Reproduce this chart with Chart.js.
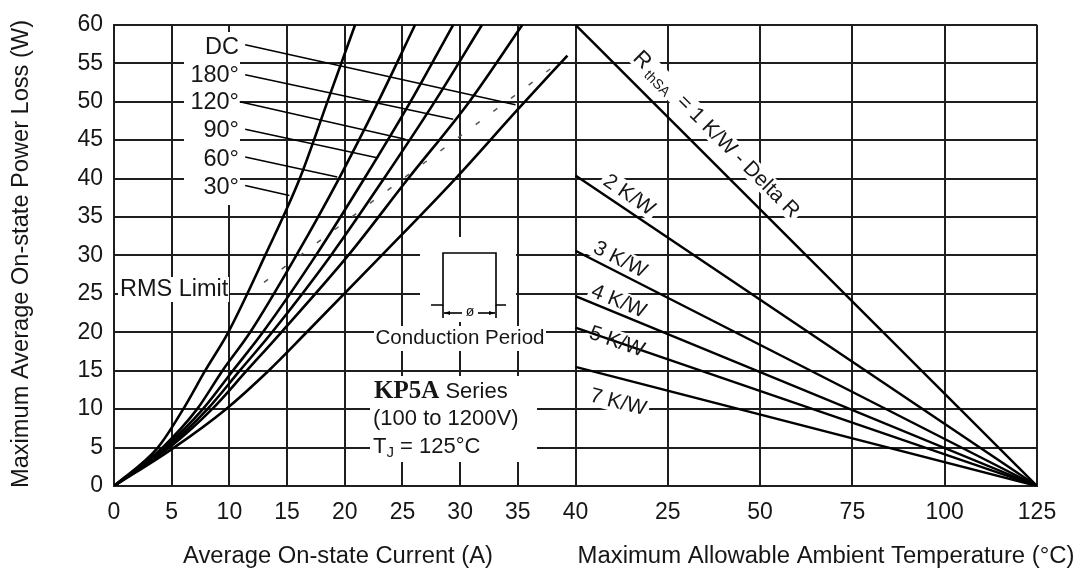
<!DOCTYPE html>
<html>
<head>
<meta charset="utf-8">
<script src="https://cdn.jsdelivr.net/npm/chart.js@4.4.1/dist/chart.umd.min.js"></script>
<style>
  html, body { margin: 0; padding: 0; background: #fff; }
  #wrap { width: 1083px; height: 572px; }
</style>
</head>
<body>
<div id="wrap"><canvas id="chart" width="1083" height="572"></canvas></div>
<script>
// ---- values ----
const currentTicks = [0, 5, 10, 15, 20, 25, 30, 35, 40];   // A, left panel
const tempTicks = [25, 50, 75, 100, 125];                  // °C, right panel
const tempMax = 125;

// left panel: max power loss (W) vs average current (A), one curve per conduction angle
const curveLabels = ['DC', '180°', '120°', '90°', '60°', '30°'];
const stepPower   = [0, 5, 10, 15, 20, 30, 40, 50, 60];
const current30   = [0, 3.8, 6.0, 7.9, 9.9, 13.1, 16.1, 18.5, 20.9];
const current60   = [0, 4.2, 7.2, 9.4, 11.8, 15.8, 19.5, 22.9, 26.1];
const current90   = [0, 4.4, 7.7, 10.3, 12.9, 17.5, 21.7, 25.7, 29.4];
const current120  = [0, 4.6, 8.1, 10.9, 13.7, 18.8, 23.4, 27.8, 31.9];
const current180  = [0, 4.8, 8.5, 11.5, 14.5, 20.3, 25.5, 30.8, 35.4];
const currentDC   = [0, 5.2, 9.7, 13.4, 16.7, 23.2, 29.6, 35.0, 39.3];
const powerDC     = [0, 5, 10, 15, 20, 30, 40, 49, 56];

// dashed RMS limit
const rmsCurrent = [13.0, 39.2];
const rmsPower   = [26.5, 55.8];

// right panel: heatsink lines, power at 0 °C falling to 0 W at 125 °C
const rthValues   = ['1', '2', '3', '4', '5', '7'];
const rthPowerAt0 = [60, 40.4, 30.6, 24.7, 20.6, 15.5];
const rthTemps    = [0, 125];

// ---- helpers ----
const FONT = '"Liberation Sans", Arial, sans-serif';
const INK = '#161616';
// temperature is put on the right half of the shared x axis (40..80)
const tempToAxis = t => 40 + t * 40 / tempMax;
const axisToTemp = v => Math.round((v - 40) * tempMax / 40);

const pts = (xs, ys) => xs.map((x, i) => ({ x: x, y: ys[i] }));

const leftCurves = [
  pts(currentDC, powerDC),
  pts(current180, stepPower),
  pts(current120, stepPower),
  pts(current90, stepPower),
  pts(current60, stepPower),
  pts(current30, stepPower)
];

const datasets = [];
leftCurves.forEach((d, i) => {
  datasets.push({
    label: curveLabels[i], data: d,
    borderColor: '#000', borderWidth: 2.6, pointRadius: 0,
    cubicInterpolationMode: 'monotone', fill: false
  });
});
rthPowerAt0.forEach((p, i) => {
  datasets.push({
    label: rthValues[i] + ' K/W',
    data: [{ x: tempToAxis(rthTemps[0]), y: p }, { x: tempToAxis(rthTemps[1]), y: 0 }],
    borderColor: '#000', borderWidth: 2.4, pointRadius: 0, fill: false
  });
});
datasets.push({
  label: 'RMS Limit', data: pts(rmsCurrent, rmsPower),
  borderColor: '#555', borderWidth: 1.5, borderDash: [5, 17], pointRadius: 0, fill: false
});

// white patches that interrupt the grid behind labels (pixels)
const patches = [
  [184, 32, 56, 173],
  [118, 277, 111, 25],
  [420, 237, 96, 85],
  [374, 326, 172, 25],
  [370, 376, 167, 86]
];

// leader lines from angle labels to curves, in data units [I, P]
const leaders = [
  [[11.37, 57.4], [34.8, 49.6]],
  [[11.37, 53.5], [29.4, 47.7]],
  [[10.9, 50.0], [25.25, 45.1]],
  [[11.37, 46.4], [22.8, 42.7]],
  [[11.37, 42.8], [19.35, 40.2]],
  [[11.37, 39.1], [15.2, 37.8]]
];
const labelY = [48, 76, 103, 131, 160, 188];

// rotated heatsink labels: baseline start (px) and angle
const rotLabels = [
  { x: 632, y: 59, a: 45, parts: [{ t: 'R', s: 22 }, { t: ' thSA', s: 14, dy: 4 }, { t: '  = 1 K/W - Delta R', s: 21 }] },
  { x: 602, y: 184, a: 34, parts: [{ t: '2 K/W', s: 21 }] },
  { x: 592, y: 252, a: 27, parts: [{ t: '3 K/W', s: 21 }] },
  { x: 590, y: 296, a: 22.4, parts: [{ t: '4 K/W', s: 21 }] },
  { x: 588, y: 338, a: 19, parts: [{ t: '5 K/W', s: 21 }] },
  { x: 589, y: 401, a: 14.5, parts: [{ t: '7 K/W', s: 21 }] }
];

function rotated(ctx, lab, mode) {
  ctx.save();
  ctx.translate(lab.x, lab.y);
  ctx.rotate(lab.a * Math.PI / 180);
  const widths = lab.parts.map(p => { ctx.font = p.s + 'px ' + FONT; return ctx.measureText(p.t).width; });
  const total = widths.reduce((a, b) => a + b, 0);
  if (mode === 'box') {
    ctx.fillStyle = '#fff';
    ctx.fillRect(-3, -17, total + 6, 21);
  } else {
    ctx.fillStyle = INK;
    ctx.textBaseline = 'alphabetic';
    let cx = 0;
    lab.parts.forEach((p, i) => {
      ctx.font = p.s + 'px ' + FONT;
      ctx.fillText(p.t, cx, p.dy || 0);
      cx += widths[i];
    });
  }
  ctx.restore();
}

function fitText(ctx, text, cx, cy, width, size, rot) {
  ctx.save();
  ctx.font = size + 'px ' + FONT;
  const w = ctx.measureText(text).width;
  ctx.translate(cx, cy);
  if (rot) ctx.rotate(rot);
  ctx.scale(width / w, 1);
  ctx.textAlign = 'center';
  ctx.textBaseline = 'middle';
  ctx.fillStyle = INK;
  ctx.fillText(text, 0, 0);
  ctx.restore();
}

function line(ctx, x1, y1, x2, y2) {
  ctx.beginPath(); ctx.moveTo(x1, y1); ctx.lineTo(x2, y2); ctx.stroke();
}

const decor = {
  id: 'decor',
  beforeDatasetsDraw(chart) {
    const ctx = chart.ctx;
    ctx.save();
    ctx.fillStyle = '#fff';
    patches.forEach(p => ctx.fillRect(p[0], p[1], p[2], p[3]));
    rotLabels.forEach(l => rotated(ctx, l, 'box'));
    ctx.restore();
  },
  afterDatasetsDraw(chart) {
    const ctx = chart.ctx;
    const sx = chart.scales.x, sy = chart.scales.y;
    ctx.save();

    // angle labels and their leaders
    ctx.font = '23.5px ' + FONT;
    ctx.fillStyle = INK;
    ctx.textAlign = 'right';
    ctx.textBaseline = 'middle';
    curveLabels.forEach((t, i) => ctx.fillText(t, 239, labelY[i]));
    ctx.strokeStyle = '#000';
    ctx.lineWidth = 1.5;
    leaders.forEach(([a, b]) => line(ctx,
      sx.getPixelForValue(a[0]), sy.getPixelForValue(a[1]),
      sx.getPixelForValue(b[0]), sy.getPixelForValue(b[1])));

    // RMS limit label
    ctx.textAlign = 'left';
    ctx.fillText('RMS Limit', 120, 290);

    // conduction period sketch
    ctx.lineWidth = 1.6;
    ctx.beginPath();
    ctx.moveTo(431, 305); ctx.lineTo(443, 305); ctx.lineTo(443, 253);
    ctx.lineTo(496, 253); ctx.lineTo(496, 305); ctx.lineTo(506, 305);
    ctx.stroke();
    line(ctx, 443, 305, 443, 318);
    line(ctx, 496, 305, 496, 318);
    line(ctx, 444, 313, 462, 313);
    line(ctx, 478, 313, 495, 313);
    ctx.fillStyle = '#000';
    ctx.beginPath(); ctx.moveTo(444, 313); ctx.lineTo(450, 311); ctx.lineTo(450, 315); ctx.fill();
    ctx.beginPath(); ctx.moveTo(495, 313); ctx.lineTo(489, 311); ctx.lineTo(489, 315); ctx.fill();
    ctx.font = '14px ' + FONT;
    ctx.textAlign = 'center';
    ctx.fillStyle = INK;
    ctx.fillText('ø', 470, 312);
    fitText(ctx, 'Conduction Period', 460, 338, 169, 20);

    // series block
    ctx.textAlign = 'left';
    ctx.textBaseline = 'alphabetic';
    ctx.font = 'bold 25px "Liberation Serif", "Times New Roman", serif';
    ctx.fillText('KP5A', 374, 398);
    const kw = ctx.measureText('KP5A').width;
    ctx.font = '22px ' + FONT;
    ctx.fillText(' Series', 374 + kw, 398);
    ctx.fillText('(100 to 1200V)', 373, 425);
    ctx.fillText('T', 373, 453);
    const tw = ctx.measureText('T').width;
    ctx.font = '15px ' + FONT;
    ctx.fillText('J', 373 + tw, 457);
    const jw = ctx.measureText('J').width;
    ctx.font = '22px ' + FONT;
    ctx.fillText(' = 125°C', 373 + tw + jw, 453);

    rotLabels.forEach(l => rotated(ctx, l, 'text'));
    ctx.restore();
  },
  afterDraw(chart) {
    const ctx = chart.ctx;
    fitText(ctx, 'Maximum Average On-state Power Loss (W)', 22, 254, 468, 23, -Math.PI / 2);
    fitText(ctx, 'Average On-state Current (A)', 338, 557, 310, 23);
    fitText(ctx, 'Maximum Allowable Ambient Temperature (°C)', 826, 557, 497, 23);
  }
};

new Chart(document.getElementById('chart'), {
  type: 'line',
  data: { datasets: datasets },
  options: {
    responsive: false,
    animation: false,
    events: [],
    layout: { padding: { left: 0, right: 46, top: 22, bottom: 0 } },
    plugins: { legend: { display: false }, tooltip: { enabled: false } },
    scales: {
      x: {
        type: 'linear', min: 0, max: 80,
        afterBuildTicks: axis => {
          axis.ticks = currentTicks.concat(tempTicks.map(tempToAxis)).map(v => ({ value: v }));
        },
        afterFit: s => { s.height = 86; },
        grid: { color: '#1e1e1e', lineWidth: 2, drawTicks: false },
        border: { color: '#1e1e1e', width: 2 },
        ticks: {
          autoSkip: false, maxRotation: 0, padding: 13,
          color: INK, font: { family: FONT, size: 23 },
          callback: v => (v <= 40 ? String(v) : String(axisToTemp(v)))
        }
      },
      y: {
        min: 0, max: 60,
        afterFit: s => { s.width = 114; },
        grid: { color: '#1e1e1e', lineWidth: 2, drawTicks: false },
        border: { color: '#1e1e1e', width: 2 },
        ticks: { stepSize: 5, padding: 11, color: INK, font: { family: FONT, size: 23 } }
      }
    }
  },
  plugins: [decor]
});
</script>
</body>
</html>
